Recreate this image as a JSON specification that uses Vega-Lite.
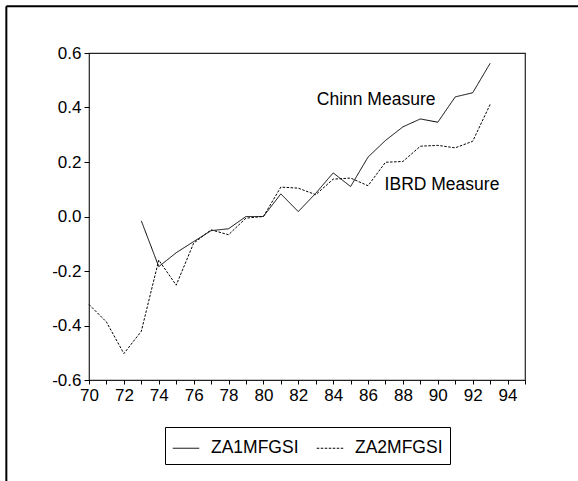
{
  "$schema": "https://vega.github.io/schema/vega-lite/v6.json",
  "autosize": {"type": "none"},
  "width": 436,
  "height": 327,
  "padding": {"left": 89, "top": 53, "right": 53, "bottom": 101},
  "background": "white",
  "config": {
    "font": "Liberation Sans",
    "view": {"stroke": "#222", "strokeWidth": 1.2},
    "axis": {"grid": false, "domain": false, "tickColor": "black", "labelColor": "black", "labelFontSize": 17, "labelFont": "Liberation Sans", "title": null, "labelOverlap": false, "labelFlush": false}
  },
  "datasets": {
    "series": [
      {"year": 73, "series": "ZA1MFGSI", "value": -0.016},
      {"year": 74, "series": "ZA1MFGSI", "value": -0.184},
      {"year": 75, "series": "ZA1MFGSI", "value": -0.133},
      {"year": 76, "series": "ZA1MFGSI", "value": -0.092},
      {"year": 77, "series": "ZA1MFGSI", "value": -0.052},
      {"year": 78, "series": "ZA1MFGSI", "value": -0.045},
      {"year": 79, "series": "ZA1MFGSI", "value": 0.0},
      {"year": 80, "series": "ZA1MFGSI", "value": 0.0},
      {"year": 81, "series": "ZA1MFGSI", "value": 0.083},
      {"year": 82, "series": "ZA1MFGSI", "value": 0.018},
      {"year": 83, "series": "ZA1MFGSI", "value": 0.085},
      {"year": 84, "series": "ZA1MFGSI", "value": 0.16},
      {"year": 85, "series": "ZA1MFGSI", "value": 0.11},
      {"year": 86, "series": "ZA1MFGSI", "value": 0.218},
      {"year": 87, "series": "ZA1MFGSI", "value": 0.279},
      {"year": 88, "series": "ZA1MFGSI", "value": 0.329},
      {"year": 89, "series": "ZA1MFGSI", "value": 0.358},
      {"year": 90, "series": "ZA1MFGSI", "value": 0.346},
      {"year": 91, "series": "ZA1MFGSI", "value": 0.439},
      {"year": 92, "series": "ZA1MFGSI", "value": 0.454},
      {"year": 93, "series": "ZA1MFGSI", "value": 0.562},
      {"year": 70, "series": "ZA2MFGSI", "value": -0.323},
      {"year": 71, "series": "ZA2MFGSI", "value": -0.387},
      {"year": 72, "series": "ZA2MFGSI", "value": -0.503},
      {"year": 73, "series": "ZA2MFGSI", "value": -0.421},
      {"year": 74, "series": "ZA2MFGSI", "value": -0.16},
      {"year": 75, "series": "ZA2MFGSI", "value": -0.252},
      {"year": 76, "series": "ZA2MFGSI", "value": -0.098},
      {"year": 77, "series": "ZA2MFGSI", "value": -0.049},
      {"year": 78, "series": "ZA2MFGSI", "value": -0.067},
      {"year": 79, "series": "ZA2MFGSI", "value": -0.006},
      {"year": 80, "series": "ZA2MFGSI", "value": 0.0},
      {"year": 81, "series": "ZA2MFGSI", "value": 0.108},
      {"year": 82, "series": "ZA2MFGSI", "value": 0.104},
      {"year": 83, "series": "ZA2MFGSI", "value": 0.08},
      {"year": 84, "series": "ZA2MFGSI", "value": 0.137},
      {"year": 85, "series": "ZA2MFGSI", "value": 0.141},
      {"year": 86, "series": "ZA2MFGSI", "value": 0.113},
      {"year": 87, "series": "ZA2MFGSI", "value": 0.199},
      {"year": 88, "series": "ZA2MFGSI", "value": 0.202},
      {"year": 89, "series": "ZA2MFGSI", "value": 0.258},
      {"year": 90, "series": "ZA2MFGSI", "value": 0.261},
      {"year": 91, "series": "ZA2MFGSI", "value": 0.252},
      {"year": 92, "series": "ZA2MFGSI", "value": 0.276},
      {"year": 93, "series": "ZA2MFGSI", "value": 0.411}
    ],
    "one": [{}]
  },
  "encoding": {
    "x": {
      "type": "quantitative",
      "scale": {"domain": [70, 95], "nice": false, "zero": false},
      "axis": {
        "values": [70,71,72,73,74,75,76,77,78,79,80,81,82,83,84,85,86,87,88,89,90,91,92,93,94,95],
        "labelExpr": "datum.value % 2 == 0 && datum.value < 95 ? datum.label : ''",
        "tickSize": 4, "labelPadding": 3, "labelOverlap": false, "labelFlush": false, "labelSeparation": 0
      }
    },
    "y": {
      "type": "quantitative",
      "scale": {"domain": [-0.6, 0.6], "nice": false, "zero": false},
      "axis": {
        "values": [-0.6, -0.4, -0.2, 0.0, 0.2, 0.4, 0.6],
        "format": ".1f",
        "labelExpr": "replace(datum.label, '\u2212', '-')",
        "tickSize": 5, "labelPadding": 3, "labelOverlap": false, "labelFlush": false
      }
    }
  },
  "layer": [
    {
      "data": {"name": "series"},
      "mark": {"type": "line", "color": "black", "strokeWidth": 1},
      "encoding": {
        "x": {"field": "year", "type": "quantitative"},
        "y": {"field": "value", "type": "quantitative"},
        "strokeDash": {
          "field": "series", "type": "nominal",
          "scale": {"domain": ["ZA1MFGSI", "ZA2MFGSI"], "range": [[1, 0], [2.5, 1.5]]},
          "legend": {
            "orient": "none", "legendX": 76, "legendY": 374,
            "direction": "horizontal", "title": null,
            "strokeColor": "black", "padding": 7,
            "labelFontSize": 17.5, "labelColor": "black", "labelOffset": 11,
            "symbolType": "stroke", "symbolSize": 700, "symbolStrokeWidth": 1, "symbolStrokeColor": "black",
            "columnPadding": 15
          }
        }
      }
    },
    {
      "data": {"name": "one"},
      "mark": {"type": "text", "text": "Chinn Measure", "align": "left", "baseline": "middle", "fontSize": 17.5, "color": "black"},
      "encoding": {
        "x": {"datum": 83.06},
        "y": {"datum": 0.427}
      }
    },
    {
      "data": {"name": "one"},
      "mark": {"type": "text", "text": "IBRD Measure", "align": "left", "baseline": "middle", "fontSize": 17.5, "color": "black"},
      "encoding": {
        "x": {"datum": 86.95},
        "y": {"datum": 0.114}
      }
    },
    {
      "data": {"name": "one"},
      "mark": {"type": "rule", "stroke": "black", "strokeWidth": 2, "clip": false},
      "encoding": {
        "x": {"datum": 65.26},
        "x2": {"datum": 110},
        "y": {"datum": 0.772}
      }
    },
    {
      "data": {"name": "one"},
      "mark": {"type": "rule", "stroke": "black", "strokeWidth": 2, "clip": false},
      "encoding": {
        "x": {"datum": 65.26},
        "y": {"datum": 0.772},
        "y2": {"datum": -1.3}
      }
    }
  ]
}
